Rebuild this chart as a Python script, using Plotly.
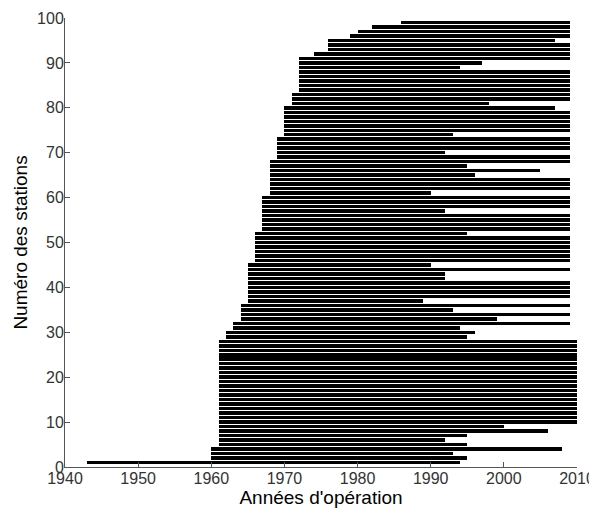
import plotly.graph_objects as go

stations = list(range(1, 100))

start_years = [
    1943, 1960, 1960, 1960, 1961, 1961, 1961, 1961, 1961, 1961,
    1961, 1961, 1961, 1961, 1961, 1961, 1961, 1961, 1961, 1961,
    1961, 1961, 1961, 1961, 1961, 1961, 1961, 1961, 1962, 1962,
    1963, 1963, 1964, 1964, 1964, 1964, 1965, 1965, 1965, 1965,
    1965, 1965, 1965, 1965, 1965, 1966, 1966, 1966, 1966, 1966,
    1966, 1966, 1967, 1967, 1967, 1967, 1967, 1967, 1967, 1967,
    1968, 1968, 1968, 1968, 1968, 1968, 1968, 1968, 1969, 1969,
    1969, 1969, 1969, 1970, 1970, 1970, 1970, 1970, 1970, 1970,
    1971, 1971, 1971, 1972, 1972, 1972, 1972, 1972, 1972, 1972,
    1972, 1974, 1976, 1976, 1976, 1979, 1980, 1982, 1986,
]

end_years = [
    1994, 1995, 1993, 2008, 1995, 1992, 1995, 2006, 2000, 2010,
    2010, 2010, 2010, 2010, 2010, 2010, 2010, 2010, 2010, 2010,
    2010, 2010, 2010, 2010, 2010, 2010, 2010, 2010, 1995, 1996,
    1994, 2009, 1999, 2009, 1993, 2009, 1989, 2009, 2009, 2009,
    2009, 1992, 1992, 2009, 1990, 2009, 2009, 2009, 2009, 2009,
    2009, 1995, 2009, 2009, 2009, 2009, 1992, 2009, 2009, 2009,
    1990, 2009, 2009, 2009, 1996, 2005, 1995, 2009, 2009, 1992,
    2009, 2009, 2009, 1993, 2009, 2009, 2009, 2009, 2009, 2007,
    1998, 2009, 2009, 2009, 2009, 2009, 2009, 2009, 1994, 1997,
    2009, 2009, 2009, 2009, 2007, 2009, 2009, 2009, 2009,
]

x_ticks = [1940, 1950, 1960, 1970, 1980, 1990, 2000, 2010]
y_ticks = [0, 10, 20, 30, 40, 50, 60, 70, 80, 90, 100]

durations = [e - s for s, e in zip(start_years, end_years)]

fig = go.Figure(
    go.Bar(
        y=stations,
        x=durations,
        base=start_years,
        orientation="h",
        width=0.78,
        marker=dict(color="black", line=dict(width=0)),
        hoverinfo="skip",
    )
)

axis_font = dict(family="Liberation Sans, Arial, sans-serif", size=16, color="#333333")
title_font = dict(family="Liberation Sans, Arial, sans-serif", size=19, color="black")

# page body has an 8px default margin, so the figure is sized to fit the window
fig.update_layout(
    width=589,
    height=500,
    margin=dict(l=57, r=20, t=10, b=41, autoexpand=False),
    paper_bgcolor="white",
    plot_bgcolor="white",
    showlegend=False,
    bargap=0,
    xaxis=dict(
        range=[1940, 2010],
        tickvals=x_ticks,
        ticks="inside",
        ticklen=5,
        tickcolor="#555555",
        showline=True,
        linecolor="#555555",
        linewidth=1,
        showgrid=False,
        zeroline=False,
        automargin=False,
        ticklabelstandoff=-3,
        tickfont=axis_font,
        title=dict(text="Années d'opération", font=title_font, standoff=0),
    ),
    yaxis=dict(
        range=[0, 100],
        tickvals=y_ticks,
        ticks="inside",
        ticklen=5,
        tickcolor="#555555",
        showline=True,
        linecolor="#555555",
        linewidth=1,
        showgrid=False,
        zeroline=False,
        automargin=False,
        ticklabelstandoff=-3,
        tickfont=axis_font,
        title=dict(text="Numéro des stations", font=title_font, standoff=4),
    ),
)

fig.write_html("out.html")
